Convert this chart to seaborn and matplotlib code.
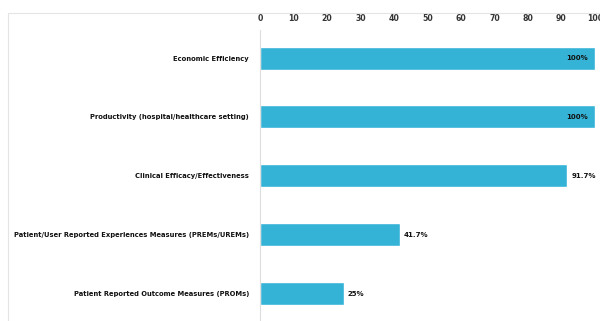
import matplotlib
matplotlib.use("Agg")
import matplotlib.pyplot as plt
import seaborn as sns
import pandas as pd
from matplotlib.patches import Rectangle

categories = [
    "Economic Efficiency",
    "Productivity (hospital/healthcare setting)",
    "Clinical Efficacy/Effectiveness",
    "Patient/User Reported Experiences Measures (PREMs/UREMs)",
    "Patient Reported Outcome Measures (PROMs)",
]
values = [100, 100, 91.7, 41.7, 25]
value_labels = ["100%", "100%", "91.7%", "41.7%", "25%"]
xticks = [0, 10, 20, 30, 40, 50, 60, 70, 80, 90, 100]

sns.set_style("white")
plt.rcParams["font.family"] = ["DejaVu Sans"]

df = pd.DataFrame({"category": categories, "value": values})

fig = plt.figure(figsize=(6, 3.21), dpi=100)
W, H = 600, 321
ax = fig.add_axes([260 / W, 0, (595 - 260) / W, 1 - 30 / H])

sns.barplot(data=df, y="category", x="value", orient="h", color="#35B3D6",
            saturation=1, width=0.39, ax=ax)

ax.set_xlim(0, 100)
ax.set_ylim(4.46, -0.475)
ax.xaxis.tick_top()
ax.set_xticks(xticks)
ax.set_xticklabels([str(t) for t in xticks], fontsize=5.6, fontweight="bold", color="#333333")
ax.tick_params(axis="x", length=0, pad=5)
ax.tick_params(axis="y", length=0, pad=8)
for lbl in ax.get_yticklabels():
    lbl.set_fontsize(4.85)
    lbl.set_fontweight("bold")
    lbl.set_color("#111111")
ax.set_xlabel("")
ax.set_ylabel("")
for s in ["top", "right", "bottom"]:
    ax.spines[s].set_visible(False)
ax.spines["left"].set_color("#dddddd")
ax.spines["left"].set_linewidth(0.8)

for i, (v, t) in enumerate(zip(values, value_labels)):
    if v >= 99:
        ax.text(v - 2, i, t, ha="right", va="center", fontsize=5,
                fontweight="bold", color="#111111")
    else:
        ax.text(v + 1.2, i, t, ha="left", va="center", fontsize=5,
                fontweight="bold", color="#111111")

# outer frame of the original screenshot
fig.patches.append(Rectangle((8 / W, -0.05), 1.2, 1 - 13 / H + 0.05,
                             transform=fig.transFigure, fill=False,
                             edgecolor="#e4e4e4", linewidth=0.8))

fig.savefig("out.png", dpi=100)
